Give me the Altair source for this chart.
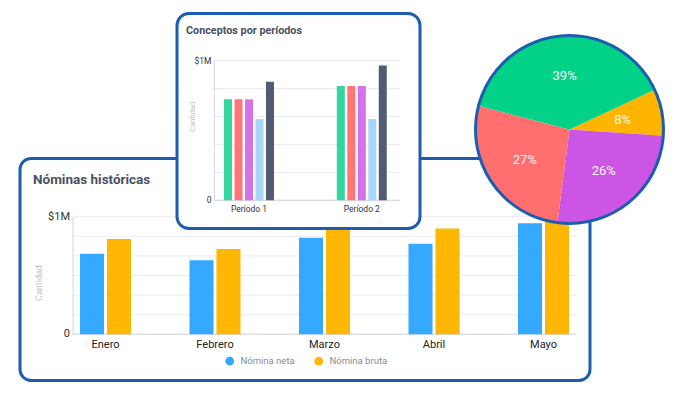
import math
import altair as alt
import pandas as pd

# ---------------- data ----------------
title_main = "Nóminas históricas"
title_inset = "Conceptos por períodos"
axis_title = "Cantidad"

months = ["Enero", "Febrero", "Marzo", "Abril", "Mayo"]
series_main = ["Nómina neta", "Nómina bruta"]
neta = [685000, 630000, 820000, 770000, 945000]
bruta = [810000, 725000, 900000, 900000, 960000]

periods = ["Período 1", "Período 2"]
concepts = ["Sueldo base", "Bonos", "Prestaciones", "Deducciones", "Total"]
p1_vals = [723000, 723000, 723000, 582000, 849000]
p2_vals = [818000, 818000, 818000, 582000, 966000]

pie_cats = ["Impuestos", "Prestaciones", "Bonos", "Sueldo base"]
pie_pct = [8, 26, 27, 39]
pie_labels = ["8%", "26%", "27%", "39%"]
pie_order = [0, 1, 2, 3]

main_grid = [0, 166667, 333333, 500000, 666667, 833333, 1000000]
inset_grid = [0, 200000, 400000, 600000, 800000, 1000000]
tick_vals = [0, 1000000]
tick_text = ["0", "$1M"]

# ---------------- style ----------------
FONT = "Roboto"
BORDER = "#1c5db0"
GRID = "#ebebf0"
BASE = "#d6d6de"
main_colors = ["#35a8ff", "#ffb703"]
inset_colors = ["#33d69f", "#ff7676", "#d472e8", "#a8d5fb", "#535b73"]
pie_colors = ["#ffb400", "#cc55e6", "#ff6f70", "#02d287"]

def P(v):
    return v - 8

one = pd.DataFrame({"k": [0]})

df_main = pd.DataFrame(
    [{"mes": m, "serie": series_main[0], "valor": v} for m, v in zip(months, neta)]
    + [{"mes": m, "serie": series_main[1], "valor": v} for m, v in zip(months, bruta)]
)
df_inset = pd.DataFrame(
    [{"periodo": periods[0], "concepto": c, "valor": v} for c, v in zip(concepts, p1_vals)]
    + [{"periodo": periods[1], "concepto": c, "valor": v} for c, v in zip(concepts, p2_vals)]
)
df_pie = pd.DataFrame({"cat": pie_cats, "pct": pie_pct, "label": pie_labels, "orden": pie_order})

# ---------------- scales ----------------
xs_main = alt.Scale(type="band", domain=months, range=[P(50.75), P(598.25)],
                    paddingInner=0.534, paddingOuter=0.267)
ys_main = alt.Scale(domain=[0, 1000000], range=[P(334.3), P(216.7)], nice=False, zero=True)
xo_main = alt.Scale(domain=series_main, paddingInner=0.11, paddingOuter=0)

xs_in = alt.Scale(type="band", domain=periods, range=[P(192.6), P(418.2)],
                  paddingInner=0.557, paddingOuter=0.2785)
ys_in = alt.Scale(domain=[0, 1000000], range=[P(200.3), P(60.7)], nice=False, zero=True)
xo_in = alt.Scale(domain=concepts, paddingInner=0.238, paddingOuter=0)

start = math.radians(65)
theta_scale = alt.Scale(domain=[0, 100], range=[start, start + 2 * math.pi])

layers = []

# ---------------- main card ----------------
layers.append(alt.Chart(one).mark_rect(fill="white", stroke=BORDER, strokeWidth=3, cornerRadius=11).encode(
    x=alt.value(P(20)), x2=alt.value(P(590)), y=alt.value(P(158.5)), y2=alt.value(P(380.5))))
layers.append(alt.Chart(one).mark_text(align="left", baseline="middle", font=FONT, fontSize=13.5,
                                       fontWeight="bold", color="#4b505e").encode(
    x=alt.value(P(33)), y=alt.value(P(180)), text=alt.value(title_main)))
layers.append(alt.Chart(pd.DataFrame({"v": main_grid})).mark_rule(color=GRID, strokeWidth=1).encode(
    y=alt.Y("v:Q", scale=ys_main, axis=None), x=alt.value(P(73)), x2=alt.value(P(576))))
layers.append(alt.Chart(pd.DataFrame({"v": [0]})).mark_rule(color=BASE, strokeWidth=1).encode(
    y=alt.Y("v:Q", scale=ys_main, axis=None), x=alt.value(P(73)), x2=alt.value(P(576))))
layers.append(alt.Chart(pd.DataFrame({"v": [0], "v2": [1000000]})).mark_rule(color=BASE, strokeWidth=1).encode(
    y=alt.Y("v:Q", scale=ys_main, axis=None), y2="v2:Q", x=alt.value(P(73))))
layers.append(alt.Chart(df_main).mark_bar().encode(
    x=alt.X("mes:N", scale=xs_main, axis=None),
    xOffset=alt.XOffset("serie:N", scale=xo_main),
    y=alt.Y("valor:Q", scale=ys_main, axis=None),
    color=alt.Color("serie:N", scale=alt.Scale(domain=series_main, range=main_colors),
                    legend=alt.Legend(orient="none", legendX=P(225), legendY=P(356), direction="horizontal",
                                      title=None, symbolType="circle", symbolSize=75, symbolStrokeWidth=0,
                                      labelFont=FONT, labelFontSize=9.5, labelColor="#8a8a90",
                                      columnPadding=19, labelOffset=6))))
layers.append(alt.Chart(pd.DataFrame({"v": tick_vals, "t": tick_text})).mark_text(
    align="right", baseline="middle", font=FONT, fontSize=11, color="#333").encode(
    y=alt.Y("v:Q", scale=ys_main, axis=None), x=alt.value(P(70)), text="t:N"))
layers.append(alt.Chart(pd.DataFrame({"mes": months})).mark_text(
    baseline="middle", font=FONT, fontSize=11, color="#222").encode(
    x=alt.X("mes:N", scale=xs_main, axis=None), y=alt.value(P(345)), text="mes:N"))
layers.append(alt.Chart(one).mark_text(angle=270, baseline="middle", font=FONT, fontSize=9, color="#c2c2c6").encode(
    x=alt.value(P(39)), y=alt.value(P(283)), text=alt.value(axis_title)))

# ---------------- inset card ----------------
layers.append(alt.Chart(one).mark_rect(fill="white", stroke=BORDER, strokeWidth=3, cornerRadius=12).encode(
    x=alt.value(P(177)), x2=alt.value(P(420)), y=alt.value(P(13.5)), y2=alt.value(P(228.5))))
layers.append(alt.Chart(one).mark_text(align="left", baseline="middle", font=FONT, fontSize=10.8,
                                       fontWeight="bold", color="#4b505e").encode(
    x=alt.value(P(186)), y=alt.value(P(31)), text=alt.value(title_inset)))
layers.append(alt.Chart(pd.DataFrame({"v": inset_grid})).mark_rule(color=GRID, strokeWidth=1).encode(
    y=alt.Y("v:Q", scale=ys_in, axis=None), x=alt.value(P(214.3)), x2=alt.value(P(400))))
layers.append(alt.Chart(pd.DataFrame({"v": [0]})).mark_rule(color=BASE, strokeWidth=1).encode(
    y=alt.Y("v:Q", scale=ys_in, axis=None), x=alt.value(P(214.3)), x2=alt.value(P(400))))
layers.append(alt.Chart(pd.DataFrame({"v": [0], "v2": [1000000]})).mark_rule(color=BASE, strokeWidth=1).encode(
    y=alt.Y("v:Q", scale=ys_in, axis=None), y2="v2:Q", x=alt.value(P(214.3))))
layers.append(alt.Chart(df_inset).mark_bar().encode(
    x=alt.X("periodo:N", scale=xs_in, axis=None),
    xOffset=alt.XOffset("concepto:N", scale=xo_in),
    y=alt.Y("valor:Q", scale=ys_in, axis=None),
    color=alt.Color("concepto:N", scale=alt.Scale(domain=concepts, range=inset_colors), legend=None)))
layers.append(alt.Chart(pd.DataFrame({"v": tick_vals, "t": tick_text})).mark_text(
    align="right", baseline="middle", font=FONT, fontSize=8.5, color="#333").encode(
    y=alt.Y("v:Q", scale=ys_in, axis=None), x=alt.value(P(211.5)), text="t:N"))
layers.append(alt.Chart(pd.DataFrame({"p": periods})).mark_text(
    baseline="middle", font=FONT, fontSize=8.5, color="#333").encode(
    x=alt.X("p:N", scale=xs_in, axis=None), y=alt.value(P(208.5)), text="p:N"))
layers.append(alt.Chart(one).mark_text(angle=270, baseline="middle", font=FONT, fontSize=7.5, color="#c2c2c6").encode(
    x=alt.value(P(192.7)), y=alt.value(P(116.7)), text=alt.value(axis_title)))

# ---------------- pie ----------------
CX, CY = P(569.5), P(129.5)
layers.append(alt.Chart(df_pie).mark_arc(radius=94).encode(
    theta=alt.Theta("pct:Q", stack=True, scale=theta_scale),
    color=alt.Color("cat:N", scale=alt.Scale(domain=pie_cats, range=pie_colors), legend=None),
    order=alt.Order("orden:Q"),
    x=alt.value(CX), y=alt.value(CY)))
layers.append(alt.Chart(df_pie).mark_text(radius=54, font=FONT, fontSize=13, color="#f8f8f8").encode(
    theta=alt.Theta("pct:Q", stack=True, scale=theta_scale),
    order=alt.Order("orden:Q"),
    text="label:N",
    x=alt.value(CX), y=alt.value(CY)))
layers.append(alt.Chart(one).mark_point(shape="circle", filled=False, size=188 * 188, stroke=BORDER,
                                        strokeWidth=3, opacity=1).encode(
    x=alt.value(CX), y=alt.value(CY)))

chart = alt.layer(*layers).resolve_scale(
    x="independent", y="independent", color="independent", theta="independent", xOffset="independent"
).properties(
    width=684, height=378, padding=0, autosize=alt.AutoSizeParams(type="none"), background="white"
).configure_view(stroke=None)

chart.save("out.html", embed_options={"renderer": "svg", "actions": False})
